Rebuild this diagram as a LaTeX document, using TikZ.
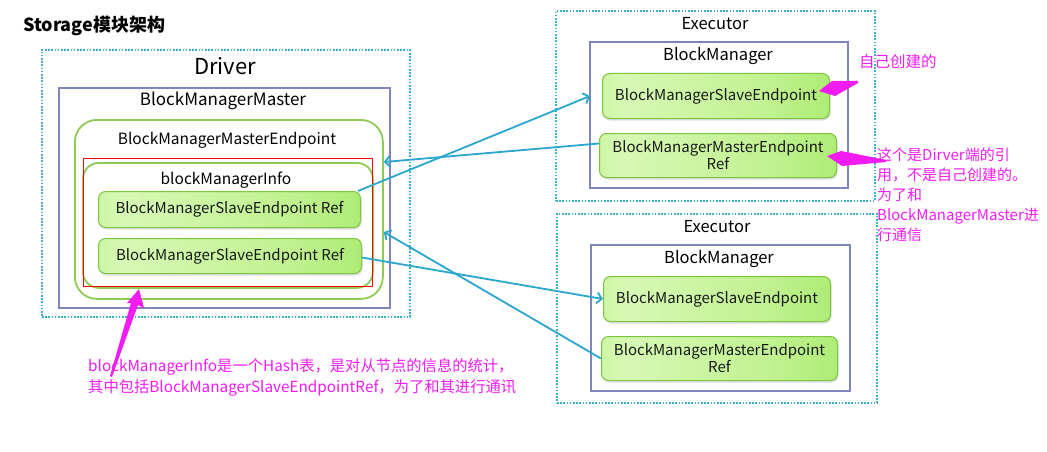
\documentclass[tikz,border=0pt]{standalone}
\usepackage{fontspec}
\setmainfont{Noto Sans CJK SC}
\usetikzlibrary{arrows.meta,shadows}
\definecolor{dotc}{HTML}{38B0C8}
\definecolor{bmc}{HTML}{7F86BC}
\definecolor{frc}{HTML}{8DCB55}
\definecolor{gbd}{HTML}{7DC540}
\definecolor{ga}{HTML}{A4EA62}
\definecolor{gm}{HTML}{D6F8B4}
\definecolor{gm2}{HTML}{C2F292}
\definecolor{gb}{HTML}{8EE248}
\definecolor{conc}{HTML}{2AA6CF}
\definecolor{pinkc}{HTML}{F21CF2}
\pgfdeclarehorizontalshading{gsh}{100bp}{color(0bp)=(ga); color(30bp)=(gm); color(60bp)=(gm2); color(100bp)=(gb)}
\tikzset{
  box/.style={inner sep=0pt, anchor=north west},
  dotbox/.style={box, draw=dotc, line width=1.8pt, dash pattern=on 1.6pt off 1.6pt},
  bmbox/.style={box, draw=bmc, line width=1.8pt},
  frame/.style={box, draw=frc, line width=1.8pt, rounded corners=#1},
  redbox/.style={box, draw=red, line width=0.9pt},
  gbox/.style={box, draw=gbd, line width=1pt, rounded corners=7pt,
    shading=gsh,
    drop shadow={opacity=0.25, shadow xshift=1pt, shadow yshift=-2pt},
    font=\fontsize{15}{17}\selectfont, align=center, text=black!90},
  lbl/.style={inner sep=0pt},
  conn/.style={draw=conc, line width=1.8pt, -{Straight Barb[length=5pt,width=11pt]}},
  pinkt/.style={inner sep=0pt, text=pinkc, align=left, anchor=north west},
}
\begin{document}
\begin{tikzpicture}[x=1pt,y=-1pt]
\useasboundingbox (0,0) rectangle (1047,452);
\fill[white] (0,0) rectangle (1047,452);

\node[lbl, anchor=west, font=\fontsize{18}{20}\selectfont\bfseries] (title) at (23,26) {Storage模块架构};

% Driver
\node[dotbox, minimum width=368pt, minimum height=267pt] (driver) at (41,49) {};
\node[lbl, font=\fontsize{22}{24}\selectfont] (driverl) at (225,66) {Driver};
\node[bmbox, minimum width=331pt, minimum height=220pt] (bmm) at (58,87) {};
\node[lbl, font=\fontsize{17}{19}\selectfont] (bmml) at (223,101) {BlockManagerMaster};
\node[frame=22pt, minimum width=308pt, minimum height=179pt] (mep) at (74,119) {};
\node[lbl, font=\fontsize{15.5}{17}\selectfont] (mepl) at (227,140) {BlockManagerMasterEndpoint};
\node[frame=16pt, minimum width=290pt, minimum height=125pt] (bmi) at (82,162) {};
\node[redbox, minimum width=289pt, minimum height=128pt] (red) at (83,158) {};
\node[lbl, font=\fontsize{15.5}{17}\selectfont] (bmil) at (226,180) {blockManagerInfo};
\node[gbox, minimum width=262pt, minimum height=36pt] (sref1) at (98,191) {BlockManagerSlaveEndpoint Ref};
\node[gbox, minimum width=263pt, minimum height=35pt] (sref2) at (98,238) {BlockManagerSlaveEndpoint Ref};

% Executor 1
\node[dotbox, minimum width=319pt, minimum height=190pt] (exec1) at (555,10) {};
\node[lbl, font=\fontsize{16.5}{18}\selectfont] (exec1l) at (715,24) {Executor};
\node[bmbox, minimum width=258pt, minimum height=146pt] (bm1) at (589,41) {};
\node[lbl, font=\fontsize{16.5}{18}\selectfont] (bm1l) at (718,56) {BlockManager};
\node[gbox, minimum width=227pt, minimum height=45pt] (eslave1) at (602,73) {BlockManagerSlaveEndpoint};
\node[gbox, minimum width=237pt, minimum height=44pt] (emref1) at (599,133) {BlockManagerMasterEndpoint\\Ref};

% Executor 2
\node[dotbox, minimum width=320pt, minimum height=189pt] (exec2) at (556,213) {};
\node[lbl, font=\fontsize{16.5}{18}\selectfont] (exec2l) at (717,227) {Executor};
\node[bmbox, minimum width=259pt, minimum height=146pt] (bm2) at (590,244) {};
\node[lbl, font=\fontsize{16.5}{18}\selectfont] (bm2l) at (719,259) {BlockManager};
\node[gbox, minimum width=227pt, minimum height=45pt] (eslave2) at (603,276) {BlockManagerSlaveEndpoint};
\node[gbox, minimum width=236pt, minimum height=44pt] (emref2) at (601,336) {BlockManagerMasterEndpoint\\Ref};

% connectors
\coordinate (mepin1) at (mep.east |- 0,162);
\coordinate (mepin2) at (mep.east |- 0,232);
\coordinate (bm1in) at ([xshift=-12pt]eslave1.west);
\draw[conn] ([xshift=-3pt]sref1.north east) -- (bm1in);
\draw[conn] ([yshift=12pt]emref1.west) -- (mepin1);
\draw[conn] ([yshift=-1.5pt]sref2.east) -- (eslave2.west);
\draw[conn] (emref2.west) -- (mepin2);

% pink arrows
\fill[pinkc] (819,91) -- (832,81) -- (858,81) -- (858,83) -- (835,96) -- cycle;
\fill[pinkc] (827,156) -- (841,151) -- (886,160) -- (886,162) -- (842,166) -- cycle;
\fill[pinkc] (139,289) -- (144,308) -- (138,305) -- (112,377) -- (110,376) -- (131,303) -- (127,303) -- cycle;

% pink texts
\node[pinkt, anchor=west, font=\fontsize{15.5}{17}\selectfont] (note1) at (859,62) {自己创建的};
\node[pinkt, font=\fontsize{15}{20}\selectfont] (note2) at (877,148) {这个是Dirver端的引\\用，不是自己创建的。\\为了和\\BlockManagerMaster进\\行通信};
\node[pinkt, font=\fontsize{15.3}{21}\selectfont] (note3) at (88,358) {blockManagerInfo是一个Hash表，是对从节点的信息的统计，\\其中包括BlockManagerSlaveEndpointRef，为了和其进行通讯};
\end{tikzpicture}
\end{document}
